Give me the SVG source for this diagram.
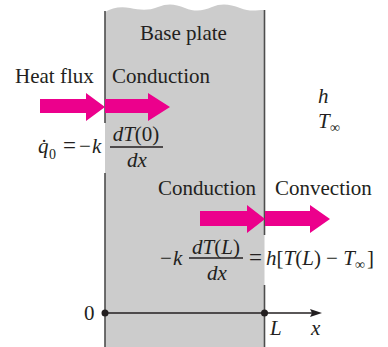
<svg xmlns="http://www.w3.org/2000/svg" width="388" height="347" viewBox="0 0 388 347">
<style>
.t{font-family:"Liberation Serif","Times New Roman",serif;font-size:21px;fill:#231f20}
.i{font-style:italic}
.s{font-size:14px}
.edge{stroke:#4d4d4d;stroke-width:1.6;fill:none}
.arr{fill:#ec008c}
.ax{stroke:#231f20;stroke-width:1.5;fill:none}
</style>
<rect width="388" height="347" fill="#ffffff"/>
<g id="plate">
<path d="M105,12 C112,8 120,6 130,8 S148,11 158,7 S175,4 185,8 S203,11 212,7 S230,4 240,8 S256,10 264.5,10 L264.5,347 L105,347 Z" fill="#cccccc"/>
<line class="edge" x1="105" y1="11" x2="105" y2="123"/>
<line class="edge" x1="105" y1="173" x2="105" y2="347"/>
<line class="edge" x1="264.5" y1="10" x2="264.5" y2="235"/>
<line class="edge" x1="264.5" y1="285" x2="264.5" y2="347"/>
<text class="t" x="140" y="40">Base plate</text>
</g>
<g id="connectors">
<polygon class="arr" points="40,99 86,99 86,93 105,107 86,121 86,113 40,113"/>
<polygon class="arr" points="105,99 148,99 148,93 170,107 148,121 148,113 105,113"/>
<polygon class="arr" points="200,211 247,211 247,205 265,219 247,233 247,226 200,226"/>
<polygon class="arr" points="265,211 310,211 310,205 330,219 310,233 310,226 265,226"/>
</g>
<g id="heatflux">
<text class="t" x="15" y="83">Heat flux</text>
<text class="t" x="112" y="83">Conduction</text>
</g>
<g id="formula1">
<text class="t i" x="38" y="153">q̇</text>
<text class="t s" x="49" y="159">0</text>
<text class="t" x="63" y="153" style="font-size:23px">=</text>
<text class="t" x="79" y="153">−</text>
<text class="t i" x="92" y="153">k</text>
<text class="t" x="136" y="141" text-anchor="middle"><tspan class="i">dT</tspan>(0)</text>
<line class="ax" x1="110" y1="147" x2="163" y2="147"/>
<text class="t i" x="137" y="167" text-anchor="middle">dx</text>
</g>
<g id="ambient">
<text class="t i" x="318" y="103">h</text>
<text class="t i" x="318" y="128">T</text>
<text class="t s" x="330" y="132">∞</text>
</g>
<g id="boundary">
<text class="t" x="158" y="195">Conduction</text>
<text class="t" x="275" y="195">Convection</text>
<text class="t" x="160" y="265">−</text>
<text class="t i" x="173" y="265">k</text>
<text class="t" x="216" y="254" text-anchor="middle"><tspan class="i">dT</tspan>(<tspan class="i">L</tspan>)</text>
<line class="ax" x1="189" y1="258" x2="243" y2="258"/>
<text class="t i" x="217" y="280" text-anchor="middle">dx</text>
<text class="t" x="249" y="265" style="font-size:23px">=</text>
<text class="t" x="266" y="265"><tspan class="i">h</tspan>[<tspan class="i">T</tspan>(<tspan class="i">L</tspan>) − <tspan class="i">T</tspan></text>
<text class="t s" x="355" y="269">∞</text>
<text class="t" x="367" y="265">]</text>
</g>
<g id="axis">
<line class="ax" x1="105" y1="313" x2="312" y2="313"/>
<polygon points="322,313 310,309 312,313 310,317" fill="#231f20"/>
<circle cx="105" cy="313" r="3.5" fill="#231f20"/>
<circle cx="264.5" cy="313" r="3.5" fill="#231f20"/>
<text class="t" x="84" y="320">0</text>
<text class="t i" x="270" y="335">L</text>
<text class="t i" x="311" y="335">x</text>
</g>
</svg>
